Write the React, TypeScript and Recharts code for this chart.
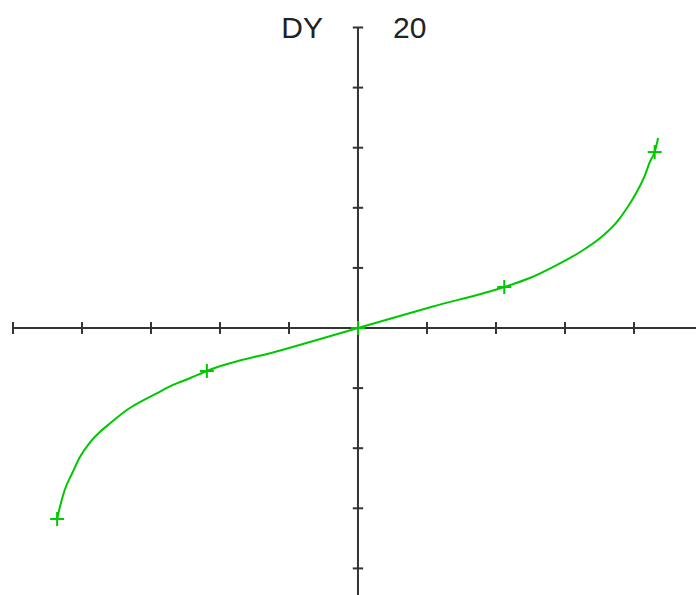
import {
  ComposedChart,
  Line,
  XAxis,
  YAxis,
  ReferenceLine,
} from 'recharts';

// curve samples (x in tick units, y in DY units)
const curveX = [
  -4.36, -4.32, -4.25, -4.14, -4.03, -3.88, -3.74, -3.57, -3.35, -3.16, -2.91, -2.68, -2.43,
  -2.19, -1.1, 0, 1.06, 2.12, 2.49, 2.88, 3.22, 3.51, 3.75, 3.9, 4.04, 4.16, 4.23, 4.3, 4.35,
];
const curveY = [
  -12.71, -11.91, -10.78, -9.65, -8.59, -7.59, -6.92, -6.26, -5.46, -4.93, -4.33, -3.79, -3.33,
  -2.86, -1.46, 0, 1.4, 2.73, 3.33, 4.19, 5.06, 5.99, 7.05, 7.99, 9.05, 10.18, 11.05, 11.71, 12.65,
];

// plotted points marked with a cross
const markX = [-4.36, -2.19, 0, 2.12, 4.3];
const markY = [-12.71, -2.86, 0, 2.73, 11.71];

const xTicks = [-5, -4, -3, -2, -1, 1, 2, 3, 4];
const yTicks = [-16, -12, -8, -4, 4, 8, 12, 16, 20];

const axisLabel = 'DY';
const scaleLabel = '20';

const X_DOMAIN: [number, number] = [-5.188, 4.899];
const Y_DOMAIN: [number, number] = [-17.77, 21.83];

const curve = curveX.map((x, i) => ({ x, y: curveY[i] }));
const marks = markX.map((x, i) => ({ x, y: markY[i] }));

const AXIS = '#333333';
const GREEN = '#00c800';
// keep axes beneath the curve
const AXIS_Z = -50;

const Cross = (props: any) => {
  const { cx, cy, index } = props;
  if (cx == null || cy == null) return null;
  return (
    <g key={`mark-${index}`} stroke={GREEN} strokeWidth={2} fill="none">
      <line x1={cx - 7} y1={cy} x2={cx + 7} y2={cy} />
      <line x1={cx} y1={cy - 7} x2={cx} y2={cy + 7} />
    </g>
  );
};

const TopLabel = (props: any) => {
  const { viewBox } = props;
  if (!viewBox) return null;
  const cx = viewBox.x + viewBox.width / 2;
  const y = viewBox.y + 11;
  const style = { fontFamily: '"Liberation Sans", Arial, sans-serif', fontSize: 30 };
  return (
    <g fill="#222222">
      <text x={cx - 35} y={y} textAnchor="end" style={style}>
        {axisLabel}
      </text>
      <text x={cx + 35} y={y} textAnchor="start" style={style}>
        {scaleLabel}
      </text>
    </g>
  );
};

export default function App() {
  return (
    <div style={{ position: 'absolute', left: 0, top: 0, width: 696, height: 595, background: '#fff' }}>
      <ComposedChart width={696} height={595} margin={{ top: 0, right: 0, bottom: 0, left: 0 }}>
        <XAxis dataKey="x" type="number" domain={X_DOMAIN} allowDataOverflow hide />
        <YAxis dataKey="y" type="number" domain={Y_DOMAIN} allowDataOverflow hide width={0} />

        {/* axes */}
        <ReferenceLine
          segment={[{ x: -5, y: 0 }, { x: X_DOMAIN[1], y: 0 }]}
          stroke={AXIS}
          strokeWidth={2}
          ifOverflow="visible"
          zIndex={AXIS_Z}
        />
        <ReferenceLine
          segment={[{ x: 0, y: 20 }, { x: 0, y: Y_DOMAIN[0] }]}
          stroke={AXIS}
          strokeWidth={2}
          ifOverflow="visible"
          zIndex={AXIS_Z}
        />
        {xTicks.map((t) => (
          <ReferenceLine
            key={`xt-${t}`}
            segment={[{ x: t, y: -0.4 }, { x: t, y: 0.4 }]}
            stroke={AXIS}
            strokeWidth={2}
            ifOverflow="visible"
            zIndex={AXIS_Z}
          />
        ))}
        {yTicks.map((t) => (
          <ReferenceLine
            key={`yt-${t}`}
            segment={[{ x: -0.075, y: t }, { x: 0.075, y: t }]}
            stroke={AXIS}
            strokeWidth={2}
            ifOverflow="visible"
            zIndex={AXIS_Z}
            label={t === 20 ? <TopLabel /> : undefined}
          />
        ))}

        <Line
          data={curve}
          dataKey="y"
          type="monotone"
          stroke={GREEN}
          strokeWidth={2}
          dot={false}
          activeDot={false}
          isAnimationActive={false}
        />
        <Line
          data={marks}
          dataKey="y"
          stroke="none"
          dot={(p: any) => <Cross {...p} />}
          activeDot={false}
          isAnimationActive={false}
        />
      </ComposedChart>
    </div>
  );
}
